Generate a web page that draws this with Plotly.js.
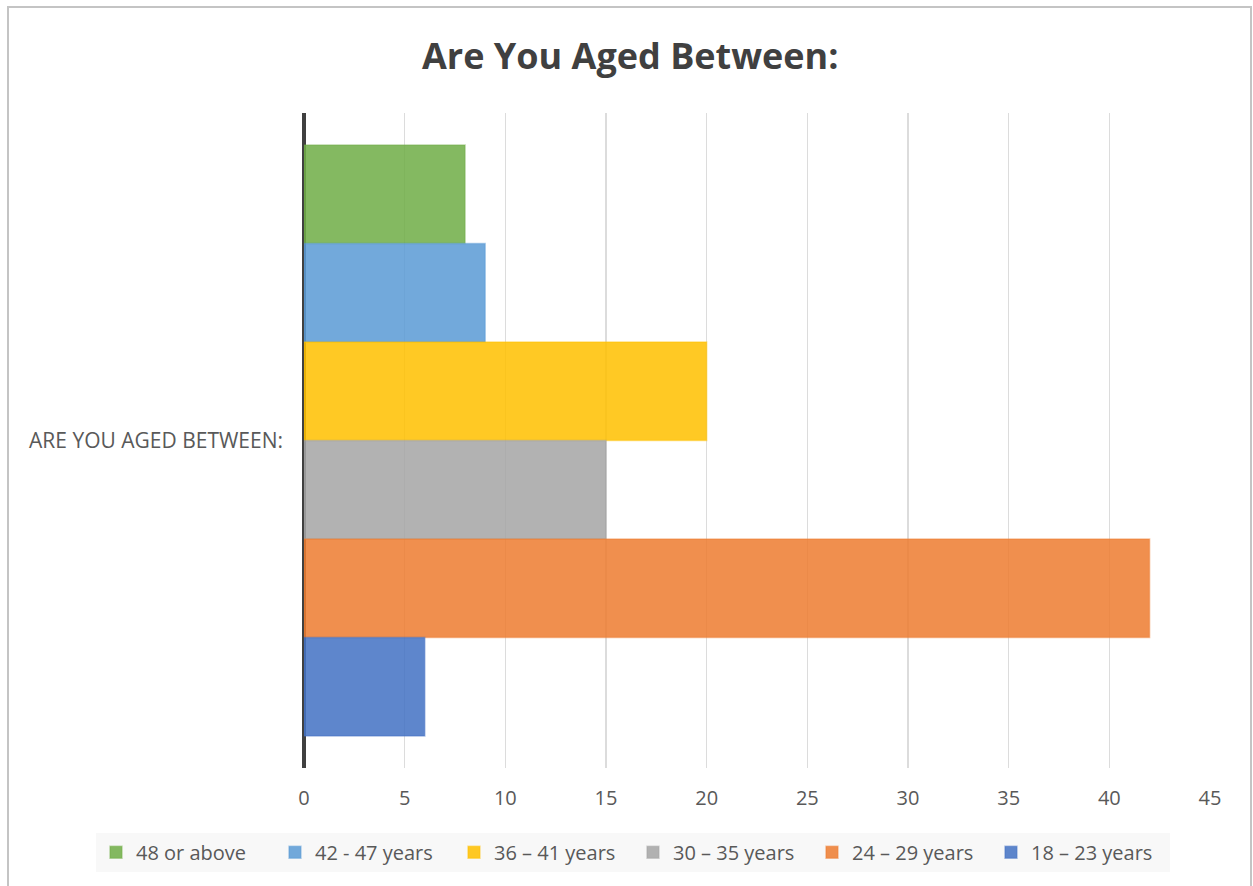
<!DOCTYPE html>
<html>
<head>
<meta charset="utf-8">
<script src="https://cdn.plot.ly/plotly-3.0.1.min.js"></script>
<style>
  html, body { margin: 0; padding: 0; background: #ffffff; }
  #wrap { position: relative; width: 1253px; height: 886px; overflow: hidden; }
  #chart { width: 1253px; height: 886px; }
  #frame {
    position: absolute; left: 7px; top: 6px; width: 1245px; height: 900px;
    border: 2px solid #c4c4c4; box-sizing: border-box; pointer-events: none;
  }
</style>
</head>
<body>
<div id="wrap">
  <div id="chart"></div>
  <div id="frame"></div>
</div>
<script>
// Survey question and answer groups
const category = ["ARE YOU AGED BETWEEN:"];
const groups = ["48 or above", "42 - 47 years", "36 \u2013 41 years", "30 \u2013 35 years", "24 \u2013 29 years", "18 \u2013 23 years"];
const counts = [8, 9, 20, 15, 42, 6];
const fills = ["112,173,71", "91,155,213", "255,192,0", "165,165,165", "237,125,49", "68,114,196"];
const xTicks = [0, 5, 10, 15, 20, 25, 30, 35, 40, 45];

const textColor = "#595959";
const fontFamily = "'Open Sans', 'Noto Sans', sans-serif";

const traces = groups.map((name, i) => ({
  type: "bar",
  orientation: "h",
  name: name,
  y: category,
  x: [counts[i]],
  marker: {
    color: "rgba(" + fills[i] + ",0.86)",
    line: { color: "rgba(" + fills[i] + ",0.45)", width: 1.5 }
  },
  hoverinfo: "x+name"
}));

const layout = {
  width: 1253,
  height: 886,
  paper_bgcolor: "#ffffff",
  plot_bgcolor: "#ffffff",
  margin: { l: 304, r: 43, t: 113, b: 118, autoexpand: false },
  barmode: "group",
  bargap: 0.098,
  bargroupgap: 0,
  title: {
    text: "<b>Are You Aged Between:</b>",
    font: { family: fontFamily, size: 36, color: "#404040" },
    x: 0.503, xref: "container", xanchor: "center",
    y: 55, yref: "container", yanchor: "middle"
  },
  xaxis: {
    range: [0, 45],
    tickvals: xTicks,
    ticktext: xTicks.map(String),
    showgrid: true,
    gridcolor: "#dcdcdc",
    gridwidth: 1.5,
    zeroline: true,
    zerolinecolor: "#404040",
    zerolinewidth: 3.5,
    showline: false,
    ticks: "",
    ticklabelstandoff: 16,
    tickfont: { family: fontFamily, size: 20, color: textColor },
    fixedrange: true
  },
  yaxis: {
    autorange: "reversed",
    showgrid: false,
    zeroline: false,
    showline: false,
    ticks: "",
    ticklabelstandoff: 20,
    tickfont: { family: fontFamily, size: 21, color: textColor },
    fixedrange: true
  },
  showlegend: true,
  legend: {
    orientation: "h",
    xref: "paper",
    x: -0.2296, xanchor: "left",
    y: -0.099, yanchor: "top",
    bgcolor: "#f8f8f8",
    borderwidth: 0,
    entrywidth: 134,
    entrywidthmode: "pixels",
    traceorder: "normal",
    font: { family: fontFamily, size: 20, color: textColor }
  }
};

Plotly.newPlot("chart", traces, layout, { displayModeBar: false, staticPlot: true });
</script>
</body>
</html>
